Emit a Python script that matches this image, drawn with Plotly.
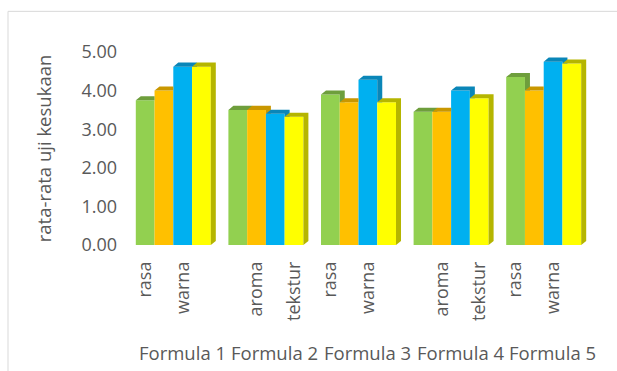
import plotly.graph_objects as go

formulas = ["Formula 1", "Formula 2", "Formula 3", "Formula 4", "Formula 5"]
attributes = ["rasa", "aroma", "warna", "tekstur"]
rasa = [3.75, 3.50, 3.90, 3.45, 4.35]
aroma = [4.00, 3.50, 3.70, 3.45, 4.00]
warna = [4.62, 3.40, 4.28, 4.00, 4.75]
tekstur = [4.62, 3.32, 3.70, 3.80, 4.70]
series = [rasa, aroma, warna, tekstur]
# which attribute label Excel shows under each formula group
shown_labels = [["rasa", "warna"], ["aroma", "tekstur"], ["rasa", "warna"],
                ["aroma", "tekstur"], ["rasa", "warna"]]
y_ticks = [0, 1, 2, 3, 4, 5]

front_colors = ["#92D050", "#FFC000", "#00B0F0", "#FFFF00"]
depth_colors = ["#6E9E3C", "#C99700", "#0A86B8", "#B5B500"]
text_color = "#595959"
font_family = "Open Sans, Noto Sans, sans-serif"

bargap = 0.19
group_w = 1 - bargap
bar_w = group_w / len(attributes)
dx = 0.054  # depth offset in x units
dy = 0.105  # depth offset in y units

gx = list(range(len(formulas)))


def bar_left(g, i):
    return g - group_w / 2 + i * bar_w


fig = go.Figure()
for i, (name, vals) in enumerate(zip(attributes, series)):
    fig.add_trace(go.Bar(
        x=gx, y=vals, name=name, marker=dict(color=front_colors[i], line=dict(width=0)),
        offsetgroup=str(i), showlegend=False, hovertemplate=name + ": %{y:.2f}<extra></extra>"))

# 3-D caps / sides, clipped against the next bar in the group
for i, vals in enumerate(series):
    xs, ys = [], []
    for g, v in enumerate(vals):
        xl = bar_left(g, i)
        xr = xl + bar_w
        c = series[i + 1][g] if i + 1 < len(series) else 0.0
        # top-left piece
        xs += [xl, xr, xr, xl + dx, xl, None]
        ys += [v, v, v + dy, v + dy, v, None]
        if c >= v + dy:
            continue
        if c <= 0:
            px = [xr, xr + dx, xr + dx, xr, xr]
            py = [0, dy, v + dy, v + dy, 0]
        elif c < dy:
            px = [xr, xr + c * dx / dy, xr + dx, xr + dx, xr, xr]
            py = [c, c, dy, v + dy, v + dy, c]
        else:
            px = [xr, xr + dx, xr + dx, xr, xr]
            py = [c, c, v + dy, v + dy, c]
        xs += px + [None]
        ys += py + [None]
    fig.add_trace(go.Scatter(
        x=xs, y=ys, mode="lines", fill="toself", fillcolor=depth_colors[i],
        line=dict(width=0, color=depth_colors[i]), hoverinfo="skip", showlegend=False))

tickvals, ticktext = [], []
for g, labs in enumerate(shown_labels):
    for lab in labs:
        i = attributes.index(lab)
        tickvals.append(bar_left(g, i) + bar_w / 2)
        ticktext.append(lab)

for g, f in enumerate(formulas):
    fig.add_annotation(x=g, y=0, xref="x", yref="paper", text=f, showarrow=False,
                       yshift=-107, xshift=9, yanchor="middle",
                       font=dict(size=18.5, color=text_color, family=font_family))

fig.add_shape(type="rect", xref="paper", yref="paper", x0=-0.257, x1=1.08,
              y0=-0.7, y1=1.2106, line=dict(color="#D9D9D9", width=1), layer="below")

fig.update_layout(
    width=617, height=371,
    margin=dict(l=127, r=27, t=52, b=126),
    paper_bgcolor="white", plot_bgcolor="white",
    barmode="group", bargap=bargap, bargroupgap=0,
    font=dict(family=font_family, color=text_color, size=18),
    xaxis=dict(range=[-0.5, 4.5], tickmode="array", tickvals=tickvals, ticktext=ticktext,
               tickangle=-90, showgrid=False, zeroline=False, showline=False,
               ticks="", ticklabelstandoff=12, tickfont=dict(size=18)),
    yaxis=dict(range=[0, 5], tickvals=y_ticks, tickformat=".2f", showgrid=False,
               zeroline=False, showline=False, ticks="", ticklabelstandoff=9,
               tickfont=dict(size=18),
               title=dict(text="rata-rata uji kesukaan", standoff=24,
                          font=dict(size=18.5))),
)
fig.update_traces(cliponaxis=False, selector=dict(type="bar"))
fig.update_traces(cliponaxis=False, selector=dict(type="scatter"))

fig.write_html("out.html")
